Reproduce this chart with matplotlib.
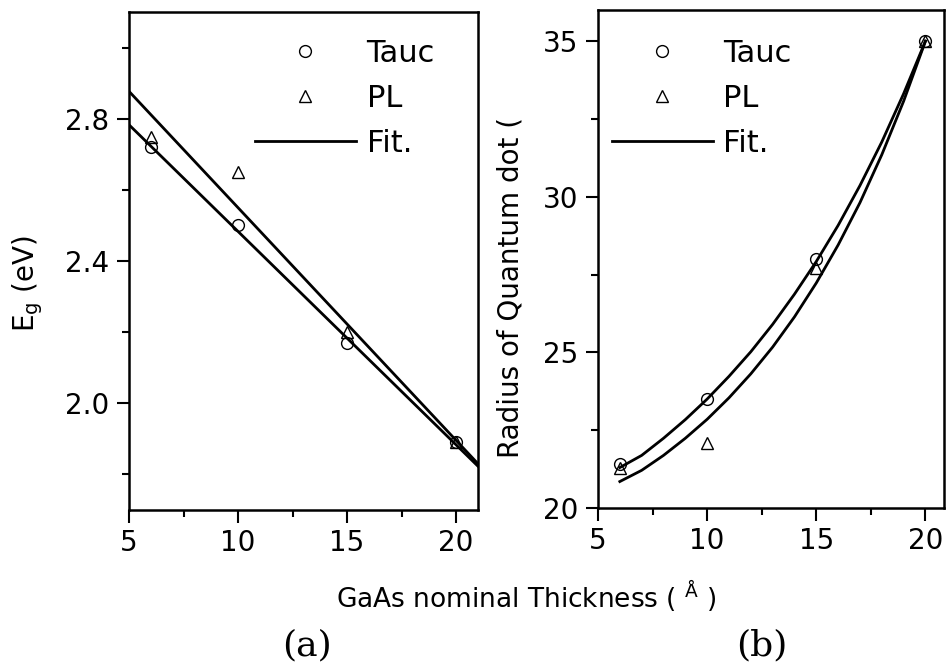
import matplotlib
matplotlib.use("Agg")
import matplotlib.pyplot as plt
from matplotlib.ticker import MultipleLocator
from matplotlib.lines import Line2D

# ---- data ----
thickness = [6, 10, 15, 20]
eg_tauc = [2.72, 2.50, 2.17, 1.89]
eg_pl = [2.75, 2.65, 2.20, 1.89]
eg_fit_x = [5, 21]
eg_fit_tauc = [2.783, 1.823]
eg_fit_pl = [2.877, 1.830]

r_tauc = [21.4, 23.5, 28.0, 35.0]
r_pl = [21.3, 22.1, 27.7, 35.0]
r_fit_x = [6, 7, 8, 9, 10, 11, 12, 13, 14, 15, 16, 17, 18, 19, 20]
r_fit_tauc = [21.30, 21.69, 22.24, 22.84, 23.50, 24.23, 25.02, 25.90, 26.87,
              27.92, 29.08, 30.36, 31.76, 33.31, 35.00]
r_fit_pl = [20.85, 21.21, 21.69, 22.24, 22.85, 23.54, 24.31, 25.17, 26.14,
            27.23, 28.45, 29.81, 31.35, 33.07, 35.00]

legend_labels = ["Tauc", "PL", "Fit."]

plt.rcParams['font.family'] = ['DejaVu Sans']

W, H = 946, 666
fig = plt.figure(figsize=(W / 100, H / 100), dpi=100)
ax1 = fig.add_axes([129 / W, 156 / H, 349 / W, 498 / H])
ax2 = fig.add_axes([598 / W, 158 / H, 346 / W, 498 / H])

mk = dict(linestyle='none', mfc='none', mec='black', ms=8.5, mew=1.0)
lw = 2.0


def style(ax):
    for s in ax.spines.values():
        s.set_linewidth(1.8)
    ax.tick_params(which='both', direction='out', top=False, right=False,
                   labelsize=20, width=1.5, pad=5)
    ax.tick_params(which='major', length=9)
    ax.tick_params(which='minor', length=5)


# panel (a)
ax1.plot(eg_fit_x, eg_fit_tauc, color='black', lw=lw)
ax1.plot(eg_fit_x, eg_fit_pl, color='black', lw=lw)
ax1.plot(thickness, eg_tauc, marker='o', **mk)
ax1.plot(thickness, eg_pl, marker='^', **mk)
ax1.set_xlim(5, 21)
ax1.set_ylim(1.7, 3.1)
ax1.xaxis.set_major_locator(MultipleLocator(5))
ax1.xaxis.set_minor_locator(MultipleLocator(2.5))
ax1.yaxis.set_minor_locator(MultipleLocator(0.2))
ax1.set_yticks([2.0, 2.4, 2.8])
ax1.set_yticklabels(["2.0", "2.4", "2.8"])
style(ax1)

# panel (b)
ax2.plot(r_fit_x, r_fit_tauc, color='black', lw=lw)
ax2.plot(r_fit_x, r_fit_pl, color='black', lw=lw)
ax2.plot(thickness, r_tauc, marker='o', **mk)
ax2.plot(thickness, r_pl, marker='^', **mk)
ax2.set_xlim(5, 20.85)
ax2.set_ylim(20, 36)
ax2.xaxis.set_major_locator(MultipleLocator(5))
ax2.xaxis.set_minor_locator(MultipleLocator(2.5))
ax2.yaxis.set_major_locator(MultipleLocator(5))
ax2.yaxis.set_minor_locator(MultipleLocator(2.5))
style(ax2)

handles = [Line2D([], [], marker='o', **mk),
           Line2D([], [], marker='^', **mk),
           Line2D([], [], color='black', lw=lw)]
for ax, anchor in ((ax1, (0.361, 0.946)), (ax2, (0.040, 0.942))):
    ax.legend(handles, legend_labels, loc='upper left', bbox_to_anchor=anchor,
              frameon=False, fontsize=22, handlelength=3.3, handletextpad=0.35,
              labelspacing=0.52, borderpad=0, borderaxespad=0)

fig.text(28 / W, 1 - 283 / H, r"E$_{\mathrm{g}}$ (eV)", rotation=90,
         ha='center', va='center', fontsize=20)
fig.text(510 / W, 1 - 288 / H, "Radius of Quantum dot (", rotation=90,
         ha='center', va='center', fontsize=20)
fig.text(526 / W, 1 - 596 / H, r"GaAs nominal Thickness ( $^{\mathrm{Å}}$ )",
         ha='center', va='center', fontsize=19)
fig.text(307 / W, 1 - 645 / H, "(a)", ha='center', va='center', fontsize=26,
         family='DejaVu Serif')
fig.text(762 / W, 1 - 645 / H, "(b)", ha='center', va='center', fontsize=26,
         family='DejaVu Serif')

fig.savefig("out.png", dpi=100)
